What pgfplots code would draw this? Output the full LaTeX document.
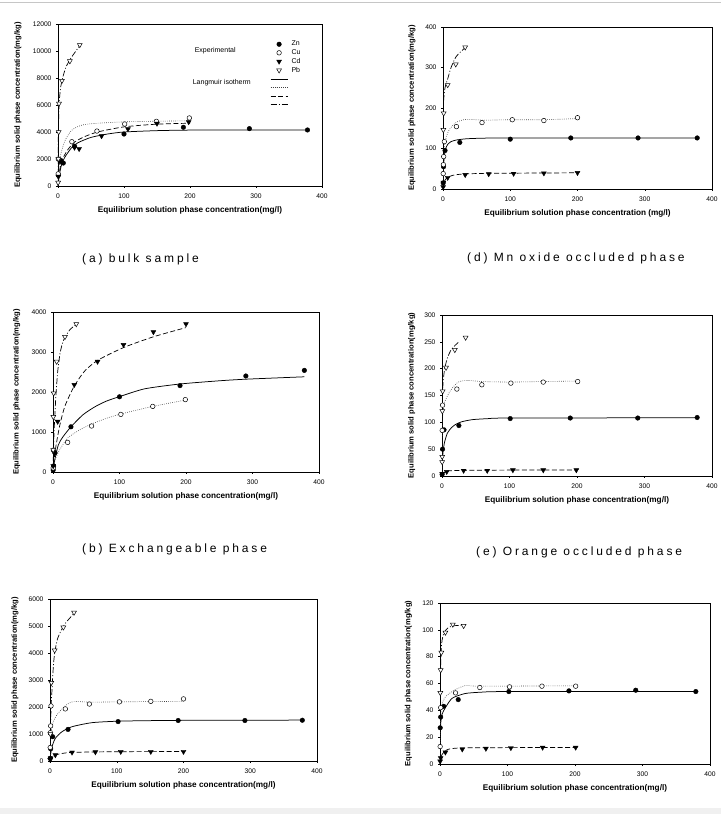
\documentclass[border=0pt]{standalone}
\usepackage{fontspec}
\setmainfont{Liberation Sans}
\newfontfamily\capfont[LetterSpace=24]{Liberation Sans}
\usepackage{pgfplots}
\pgfplotsset{compat=1.18}
\pgfplotsset{
 panel/.style={scale only axis, anchor=south west, xmin=0, xmax=400, ymin=0,
  xtick={0,100,200,300,400}, tick pos=left, tick align=outside, major tick length=2pt,
  axis line style={line width=0.6pt}, every tick/.style={line width=0.5pt, black},
  ticklabel style={font=\fontsize{6.7}{7.5}\selectfont},
  xticklabel style={yshift=-2pt}, yticklabel style={xshift=-1pt},
  /pgf/number format/assume math mode=true, /pgf/number format/fixed,
  /pgf/number format/1000 sep={}, scaled ticks=false,
  xlabel={\bfseries Equilibrium solution phase concentration(mg/l)},
  ylabel={\bfseries Equilibrium solid phase concentration(mg/kg)},
  xlabel style={font=\fontsize{8.2}{9}\selectfont, at={(rel axis cs:0.5,0)}, yshift=-24pt, anchor=center},
  ylabel style={font=\fontsize{7.6}{8.5}\selectfont, anchor=center}},
 znm/.style={only marks, mark=*, mark size=2.3pt, mark options={draw=black, fill=black}},
 cum/.style={only marks, mark=*, mark size=2.3pt, mark options={draw=black, fill=white, line width=0.5pt}},
 cdm/.style={only marks, mark=triangle*, mark size=2.8pt, mark options={rotate=180, draw=black, fill=black}},
 pbm/.style={only marks, mark=triangle*, mark size=2.8pt, mark options={rotate=180, draw=black, fill=white, line width=0.5pt}},
 znl/.style={no markers, black, line width=0.75pt, smooth, tension=0.4},
 cul/.style={no markers, black!75, line width=0.6pt, smooth, tension=0.4, dash pattern=on 0.7pt off 1.4pt},
 cdl/.style={no markers, black, line width=0.7pt, smooth, tension=0.4, dash pattern=on 5pt off 2.5pt},
 pbl/.style={no markers, black, line width=0.7pt, smooth, tension=0.4, dash pattern=on 6pt off 2pt on 1pt off 2pt},
}
\begin{document}
\begin{tikzpicture}
\useasboundingbox (0,0) rectangle (721pt,814pt);
\fill[white] (0,0) rectangle (721pt,814pt);
\draw[gray!45, line width=1pt] (0,811pt) -- (721pt,811pt);
\fill[gray!12] (0,0) rectangle (721pt,6pt);

% (a) bulk sample
\begin{axis}[panel, at={(58pt,628pt)}, width=264pt, height=162pt, ymax=12000,
  ytick={0,2000,...,12000}, ylabel style={at={(rel axis cs:-0.1515,0.5)}},
  legend cell align=left,
  legend style={at={(0.803,0.908)}, anchor=north west, draw=none, fill=none,
   inner sep=0pt, row sep=-1.8pt, column sep=1.5pt, font=\fontsize{7}{8}\selectfont}]
\addlegendimage{znm}
\addlegendimage{cum}
\addlegendimage{cdm}
\addlegendimage{pbm}
\addlegendimage{znl}
\addlegendimage{cul}
\addlegendimage{cdl}
\addlegendimage{pbl}
\legend{Zn,Cu,Cd,Pb,\phantom{Zn},\phantom{Zn},\phantom{Zn},\phantom{Zn}}
\addplot[znl, forget plot] coordinates {(0,0)(2,800)(5,1500)(10,2100)(20,2800)(30,3200)(50,3600)(75,3850)(100,4000)(150,4100)(200,4140)(300,4150)(378,4150)};
\addplot[cul, forget plot] coordinates {(0,0)(1,1000)(3,2100)(10,3300)(20,4100)(30,4400)(40,4550)(60,4650)(100,4750)(150,4800)(200,4830)};
\addplot[cdl, forget plot] coordinates {(0,0)(3,1300)(8,2100)(15,2700)(25,3250)(40,3650)(60,4000)(100,4380)(150,4580)(200,4650)};
\addplot[pbl, forget plot] coordinates {(0,0)(0.5,3500)(1,5000)(2,6300)(4,7300)(7,8000)(12,8800)(20,9500)(33,10400)};
\addplot[znm, forget plot] coordinates {(0.5,800)(4,1900)(8,1700)(25,2950)(100,3850)(190,4350)(290,4250)(378,4150)};
\addplot[cum, forget plot] coordinates {(0.3,900)(0.5,2000)(21,3280)(59,4070)(101,4590)(149,4790)(199,5040)};
\addplot[cdm, forget plot] coordinates {(0.5,700)(3,1800)(25,2850)(32,2750)(66,3700)(106,4220)(150,4630)(198,4740)};
\addplot[pbm, forget plot] coordinates {(0.2,250)(0.5,2000)(1,4000)(1.5,6100)(6,7800)(18,9250)(33,10450)};
\node[anchor=west, inner sep=0pt, font=\fontsize{7}{8}\selectfont] at (axis cs:207,10000) {Experimental};
\node[anchor=west, inner sep=0pt, font=\fontsize{7}{8}\selectfont] at (axis cs:204,7630) {Langmuir isotherm};
\end{axis}

% (d) Mn oxide occluded phase
\begin{axis}[panel, at={(443pt,625pt)}, width=269pt, height=162pt, ymax=400,
  ytick={0,100,...,400}, ylabel style={at={(rel axis cs:-0.1152,0.5)}},
  xlabel={\bfseries Equilibrium solution phase concentration (mg/l)}]
\addplot[znl] coordinates {(0,0)(0.5,40)(1,62)(2,83)(4,100)(7,110)(12,117)(20,121)(35,124)(60,125.5)(100,126)(378,126)};
\addplot[cul] coordinates {(0,0)(1,60)(2,100)(5,130)(10,148)(20,165)(35,172)(60,170)(100,171)(150,171)(200,174)};
\addplot[cdl] coordinates {(0,0)(1,12)(3,22)(7,29)(15,34)(30,37)(60,38.5)(100,39)(200,40)};
\addplot[pbl] coordinates {(0,0)(0.5,180)(1,220)(3,250)(7,272)(12,300)(20,328)(35,352)};
\addplot[znm] coordinates {(0.3,15)(0.8,55)(3,95)(25,115)(100,123)(190,126)(290,126)(378,126)};
\addplot[cum] coordinates {(0.3,38)(0.6,60)(1,80)(2,117)(20,154)(58,164)(103,171)(150,169)(200,176)};
\addplot[cdm] coordinates {(0.2,5)(0.5,16)(7,28)(33,35)(68,37)(105,38)(150,39)(200,40)};
\addplot[pbm] coordinates {(0.5,146)(1,187)(7,257)(19,308)(33,350)};
\end{axis}

% (b) Exchangeable phase
\begin{axis}[panel, at={(53pt,342pt)}, width=266pt, height=160pt, ymax=4000,
  ytick={0,1000,...,4000}, ylabel style={at={(rel axis cs:-0.1365,0.5)}}]
\addplot[znl] coordinates {(0,0)(2,250)(8,675)(15,880)(27,1130)(45,1430)(63,1630)(80,1770)(101,1890)(138,2080)(191,2200)(250,2280)(290,2320)(378,2380)};
\addplot[cul] coordinates {(0,0)(3,300)(10,550)(22,850)(40,1050)(58,1200)(80,1340)(102,1450)(150,1640)(200,1800)};
\addplot[cdl] coordinates {(0,0)(3,500)(10,1150)(18,1650)(32,2150)(48,2530)(68,2800)(106,3110)(151,3380)(200,3610)};
\addplot[pbl] coordinates {(0,0)(1,700)(2,1150)(4,1800)(7,2500)(11,3000)(16,3300)(25,3550)(35,3690)};
\addplot[znm] coordinates {(0.3,50)(1,150)(3,480)(27,1130)(100,1880)(191,2160)(290,2400)(378,2540)};
\addplot[cum] coordinates {(0.3,100)(1,550)(22,740)(58,1150)(102,1440)(150,1640)(199,1810)};
\addplot[cdm] coordinates {(0.3,150)(1,500)(7,1260)(32,2180)(67,2760)(106,3180)(151,3500)(200,3700)};
\addplot[pbm] coordinates {(0.2,550)(0.5,1380)(1,1970)(5.5,2760)(18,3380)(35,3700)};
\end{axis}

% (e) Orange occluded phase
\begin{axis}[panel, at={(442pt,338pt)}, width=270pt, height=161pt, ymax=300,
  ytick={0,50,...,300}, ylabel style={at={(rel axis cs:-0.1122,0.5)}}]
\addplot[znl] coordinates {(0,0)(1,35)(2,50)(4,64)(8,80)(14,90)(20,96)(29,101)(45,105)(70,107)(100,108)(378,108.5)};
\addplot[cul] coordinates {(0,0)(0.5,80)(1,110)(4,138)(13,160)(24,175)(38,178)(60,176)(100,175)(150,176)(200,177)};
\addplot[cdl] coordinates {(0,0)(1,4)(3,7)(7,9)(15,10)(30,10.5)(100,11)(200,11)};
\addplot[pbl] coordinates {(0,0)(0.5,120)(1,160)(2,180)(4,200)(8,220)(14,236)(24,249)};
\addplot[znm] coordinates {(0.2,3)(0.8,50)(3,86)(25,94)(101,107)(190,108)(290,108)(378,109)};
\addplot[cum] coordinates {(0.3,85)(0.8,132)(22,162)(59,170)(102,173)(150,175)(201,176)};
\addplot[cdm] coordinates {(0.3,4)(7,8)(32,10)(67,10)(105,11)(150,11)(199,11)};
\addplot[pbm] coordinates {(0.2,26)(0.3,36)(0.5,121)(1,158)(6,202)(19,235)(35,258)};
\end{axis}

% (c)
\begin{axis}[panel, at={(50pt,53pt)}, width=267pt, height=162pt, ymax=6000,
  ytick={0,1000,...,6000}, ylabel style={at={(rel axis cs:-0.1311,0.5)}}]
\addplot[znl] coordinates {(0,0)(1,250)(3,530)(8,840)(18,1085)(33,1270)(63,1420)(102,1475)(150,1495)(200,1505)(378,1515)};
\addplot[cul] coordinates {(0,0)(1,700)(2,1150)(5,1450)(10,1700)(23,2050)(35,2200)(60,2180)(100,2190)(150,2200)(200,2210)};
\addplot[cdl] coordinates {(0,0)(1,70)(3,150)(8,220)(18,280)(33,320)(68,335)(106,345)(200,350)};
\addplot[pbl] coordinates {(0,0)(0.5,800)(1,1500)(2,2200)(3,2630)(5,3500)(7,4000)(11,4500)(16,4800)(23,5100)(36,5470)};
\addplot[znm] coordinates {(0.3,100)(1,450)(4,900)(27,1170)(102,1460)(192,1500)(292,1500)(378,1510)};
\addplot[cum] coordinates {(0.3,500)(0.6,1050)(1,1300)(1.5,2040)(23,1930)(59,2110)(104,2190)(151,2210)(200,2300)};
\addplot[cdm] coordinates {(0.3,50)(1,100)(8,220)(33,320)(68,330)(106,345)(151,345)(200,345)};
\addplot[pbm] coordinates {(0.5,1000)(2,2900)(7,4100)(20,4950)(36,5500)};
\end{axis}

% (f)
\begin{axis}[panel, at={(440pt,50pt)}, width=270pt, height=161pt, ymax=120,
  ytick={0,20,...,120}, ylabel style={at={(rel axis cs:-0.1174,0.5)}}]
\addplot[znl] coordinates {(0,0)(0.3,20)(1,30)(3,37)(8,42)(18,49)(37,52.5)(60,53.5)(100,54)(378,54)};
\addplot[cul] coordinates {(0,0)(0.5,25)(1,35)(3,45)(8,50)(15,53)(23,55.5)(38,58.5)(60,58)(200,58.3)};
\addplot[cdl] coordinates {(0,0)(1,4.5)(3,7)(8,10)(15,11.3)(33,12)(100,12.2)(200,12.3)};
\addplot[pbl] coordinates {(0,0)(0.3,40)(0.7,65)(1.5,82)(3,92)(6,98)(12,101.5)(20,103)(35,103.5)};
\addplot[znm] coordinates {(0.3,27)(1,35)(5.5,43)(27,48)(102,54)(191,54.5)(290,55)(379,54)};
\addplot[cum] coordinates {(0.2,13)(1,42)(23,53)(59,57)(103,57.5)(151,58)(201,58)};
\addplot[cdm] coordinates {(0.2,2)(1,4.5)(8,8.7)(33,11)(68,11.5)(105,12)(152,12.3)(201,12.3)};
\addplot[pbm] coordinates {(0.5,53)(1,70)(2,83)(8,98)(19,104)(35,103)};
\end{axis}

\node[anchor=west, inner sep=0pt, font=\capfont\fontsize{12}{14}\selectfont] at (82pt,555pt) {(a) bulk sample};
\node[anchor=west, inner sep=0pt, font=\capfont\fontsize{12}{14}\selectfont] at (467pt,556pt) {(d) Mn oxide occluded phase};
\node[anchor=west, inner sep=0pt, font=\capfont\fontsize{12}{14}\selectfont] at (82pt,265pt) {(b) Exchangeable phase};
\node[anchor=west, inner sep=0pt, font=\capfont\fontsize{12}{14}\selectfont] at (476pt,262pt) {(e) Orange occluded phase};
\end{tikzpicture}
\end{document}
